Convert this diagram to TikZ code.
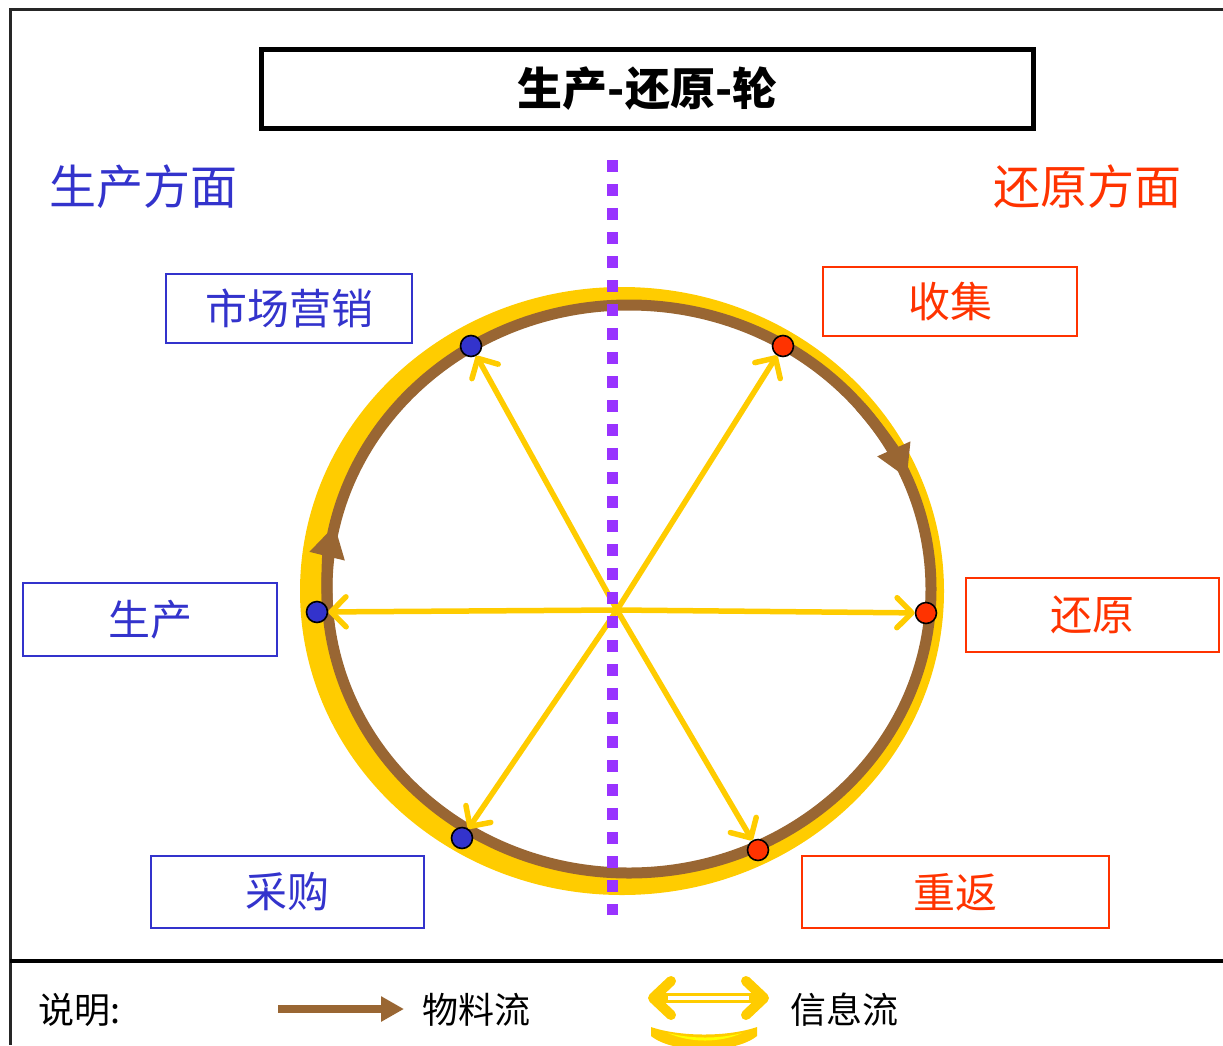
\documentclass[tikz,border=0pt]{standalone}
\usepackage{fontspec}
\setmainfont{Noto Sans CJK SC}
\usepackage{tikz}
\usetikzlibrary{arrows.meta}
\definecolor{Prod}{RGB}{51,51,204}
\definecolor{Recy}{RGB}{255,51,0}
\definecolor{Info}{RGB}{255,204,0}
\definecolor{InfoLight}{RGB}{255,255,0}
\definecolor{Flow}{RGB}{153,102,51}
\definecolor{Split}{RGB}{153,51,255}
\newcommand{\StageBox}[6]{% name x,y width height colour text
\node[draw=#5,line width=2pt,minimum width=#3pt,minimum height=#4pt,text=#5,font=\fontsize{42}{46}\selectfont] (#1) at (#2) {#6};
}
\newcommand{\StageDot}[3]{% name x,y colour
\node[circle,draw=black,line width=1.6pt,fill=#3,minimum size=21pt,inner sep=0pt] (#1) at (#2) {};
}

\begin{document}
\begin{tikzpicture}[x=1pt,y=-1pt,
  spoke/.style={Info,line width=5.5pt,-{Straight Barb[length=15pt,width=30pt,round]}},
  ringtip/.style={Flow,line width=11pt,-{Triangle[length=32pt,width=34pt]}}]
\useasboundingbox (0,0) rectangle (1223,1045);
% frame
\draw[line width=3pt,black!85] (1223,9) -- (10,9) -- (10,1045);
\draw[line width=4pt] (10,961) -- (1223,961);
\node[draw,line width=5pt,minimum width=772pt,minimum height=79pt,font=\bfseries\fontsize{45}{50}\selectfont] (title) at (647.5,89) {生产-还原-轮};
\node[text=Prod,font=\fontsize{47}{50}\selectfont] (prodSide) at (143,187) {生产方面};
\node[text=Recy,font=\fontsize{47}{50}\selectfont] (recySide) at (1087,187) {还原方面};
% wheel
\fill[Info,even odd rule] (622,591) ellipse [x radius=322,y radius=304] (629,589) ellipse [x radius=302,y radius=284];
\draw[Flow,line width=11pt] (629,589) ellipse [x radius=302,y radius=284];
\draw[ringtip] (629,589) ++(-40:302 and 284) arc[start angle=-40,end angle=-23,x radius=302,y radius=284];
\draw[ringtip] (629,589) ++(176:302 and 284) arc[start angle=176,end angle=193,x radius=302,y radius=284];
\StageDot{mktDot}{471,346}{Prod}
\StageDot{prdDot}{317,612}{Prod}
\StageDot{purDot}{462,838}{Prod}
\StageDot{colDot}{783,346}{Recy}
\StageDot{rtnDot}{926,613}{Recy}
\StageDot{retDot}{758,850}{Recy}
\coordinate (hub) at (617,610);
\draw[spoke] (hub) -- (mktDot);
\draw[spoke] (hub) -- (prdDot);
\draw[spoke] (hub) -- (purDot);
\draw[spoke] (hub) -- (colDot);
\draw[spoke] (hub) -- (rtnDot);
\draw[spoke] (hub) -- (retDot);
\coordinate (splitTop) at (612,160);
\coordinate (splitBot) at (612,915);
\draw[Split,line width=11pt,dash pattern=on 12pt off 12pt] (splitTop) -- (splitBot);
\StageBox{mktBox}{289,308.5}{246}{69}{Prod}{市场营销}
\StageBox{prdBox}{150,619.5}{254}{73}{Prod}{生产}
\StageBox{purBox}{287.5,892}{273}{72}{Prod}{采购}
\StageBox{colBox}{950,301.5}{254}{69}{Recy}{收集}
\StageBox{rtnBox}{1092.5,615}{253}{74}{Recy}{还原}
\StageBox{retBox}{955.5,892}{307}{72}{Recy}{重返}
% legend
\node[font=\fontsize{36}{40}\selectfont] (legNote) at (80,1010) {说明:};
\coordinate (flowA) at (278,1009);
\coordinate (flowB) at (404,1009);
\draw[Flow,line width=8pt,-{Triangle[length=23pt,width=24pt]}] (flowA) -- (flowB);
\node[font=\fontsize{36}{40}\selectfont] (legFlow) at (476,1010) {物料流};
\coordinate (infoA) at (648,998);
\coordinate (infoB) at (769,998);
\coordinate (gapA) at (668,998);
\coordinate (gapB) at (749,998);
\draw[Info,line width=10pt,{Straight Barb[length=18pt,width=34pt,round]}-{Straight Barb[length=18pt,width=34pt,round]}] (infoA) -- (infoB);
\draw[white,line width=4pt] (gapA) -- (gapB);
\fill[Info] (651,1027) .. controls (680,1037) and (728,1037) .. (757,1027) -- (757,1036) .. controls (735,1054) and (673,1054) .. (651,1036) -- cycle;
\fill[InfoLight] (668,1033) .. controls (690,1039) and (720,1039) .. (742,1033) .. controls (720,1043) and (690,1043) .. (668,1033) -- cycle;
\node[font=\fontsize{36}{40}\selectfont] (legInfo) at (844,1010) {信息流};
\end{tikzpicture}
\end{document}
